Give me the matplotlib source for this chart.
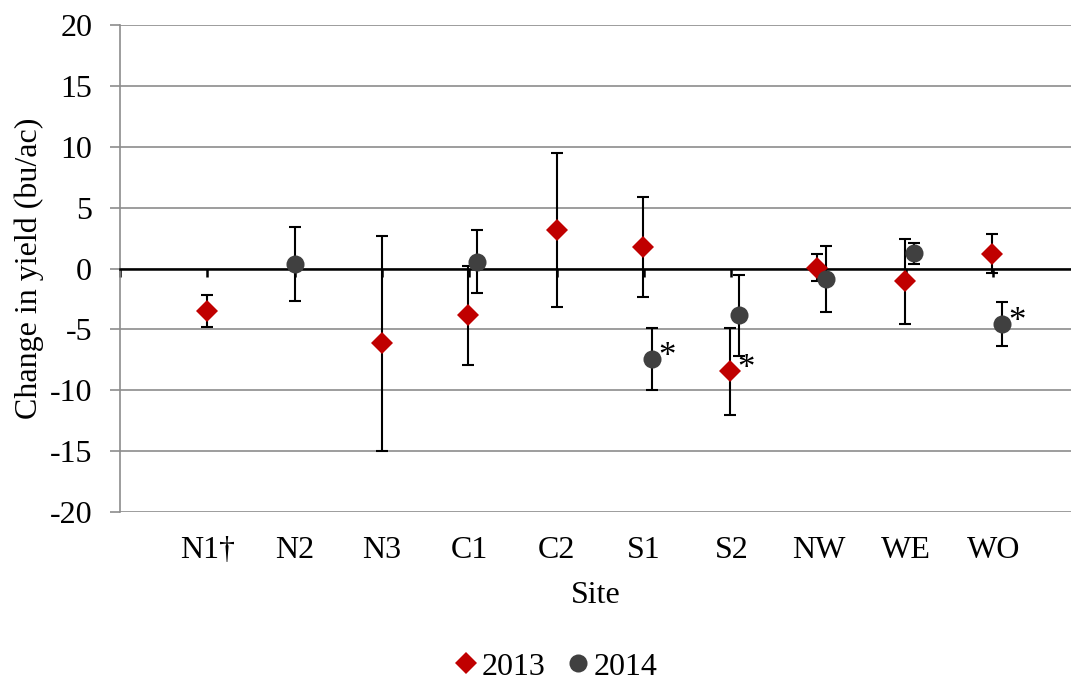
import numpy as np
import matplotlib
matplotlib.use("Agg")
import matplotlib.pyplot as plt
from matplotlib.lines import Line2D

# sites along the x axis (positions 1..10)
sites = ["N1\u2020", "N2", "N3", "C1", "C2", "S1", "S2", "NW", "WE", "WO"]
site_pos = np.arange(1, len(sites) + 1)

# 2013 means and error (+/-), NaN = no data
y2013 = [-3.5, np.nan, -6.15, -3.85, 3.15, 1.75, -8.45, 0.05, -1.05, 1.2]
e2013 = [1.3, np.nan, 8.8, 4.05, 6.3, 4.1, 3.6, 1.1, 3.5, 1.6]
# 2014
y2014 = [np.nan, 0.35, np.nan, 0.55, np.nan, -7.45, -3.85, -0.85, 1.25, -4.55]
e2014 = [np.nan, 3.05, np.nan, 2.6, np.nan, 2.55, 3.3, 2.7, 0.85, 1.8]
# sites where the change was significant
sig2013 = [False, False, False, False, False, False, True, False, False, False]
sig2014 = [False, False, False, False, False, True, False, False, False, True]

# small horizontal nudge when both years share a site
off2013 = [0, 0, 0, -0.015, 0, -0.015, -0.015, -0.015, -0.015, -0.015]
off2014 = [0, 0, 0, 0.09, 0, 0.09, 0.09, 0.09, 0.09, 0.095]

RED = "#C00000"
GREY = "#404040"
GRID = "#8C8C8C"

plt.rcParams["font.family"] = ["Liberation Serif", "DejaVu Serif"]
plt.rcParams["font.size"] = 23
plt.rcParams["axes.unicode_minus"] = False

fig = plt.figure(figsize=(10.71, 6.84), dpi=100)
ax = fig.add_axes([120 / 1071, 1 - 512 / 684, 1 - 120 / 1071, (512 - 25) / 684])

x13 = site_pos + np.array(off2013)
x14 = site_pos + np.array(off2014)

# error bars first, markers on top
for xs, ys, es in [(x13, y2013, e2013), (x14, y2014, e2014)]:
    ax.errorbar(xs, ys, yerr=es, fmt="none", ecolor="black", elinewidth=1.5,
                capsize=4.5, capthick=1.5, zorder=3)
ax.plot(x13, y2013, "D", color=RED, ms=11, mew=0, zorder=4)
ax.plot(x14, y2014, "o", color=GREY, ms=13, mew=0, zorder=4)

for xs, ys, sig in [(x13, y2013, sig2013), (x14, y2014, sig2014)]:
    for x, y, s in zip(xs, ys, sig):
        if s:
            ax.annotate("*", (x, y), xytext=(5, 1), textcoords="offset points",
                        fontsize=25, ha="left", va="center", zorder=5)

ax.set_xlim(0, 10.89)
ax.set_ylim(-20, 20)
ax.set_yticks(np.arange(-20, 21, 5))
ax.yaxis.grid(True, color=GRID, lw=1.2)
ax.set_axisbelow(True)

for side in ["top", "right"]:
    ax.spines[side].set_visible(False)
ax.spines["left"].set_color(GRID)
ax.spines["left"].set_linewidth(1.2)
ax.spines["bottom"].set_position(("data", 0))
ax.spines["bottom"].set_color("black")
ax.spines["bottom"].set_linewidth(1.8)

ax.set_xticks(np.arange(0, 11))
ax.tick_params(axis="x", direction="out", length=6, width=1.8, color="black",
               labelbottom=False)
ax.tick_params(axis="y", direction="out", length=7, width=1.2, color=GRID, pad=13)

sec = ax.secondary_xaxis(0)
sec.set_xticks(site_pos, sites)
sec.tick_params(length=0, pad=17)
sec.spines["bottom"].set_visible(False)
sec.set_xlabel("Site", labelpad=12)

ax.set_ylabel("Change in yield (bu/ac)")
ax.yaxis.set_label_coords((44 - 120) / 951, 0.5)

handles = [Line2D([], [], marker="D", color=RED, ls="", ms=11, mew=0),
           Line2D([], [], marker="o", color=GREY, ls="", ms=13, mew=0)]
fig.legend(handles, ["2013", "2014"], loc="center", bbox_to_anchor=(0.517, 0.025),
           ncol=2, frameon=False, handletextpad=0.0, columnspacing=0.5,
           handlelength=1.0, borderpad=0.2)

fig.savefig("out.png", dpi=100)
